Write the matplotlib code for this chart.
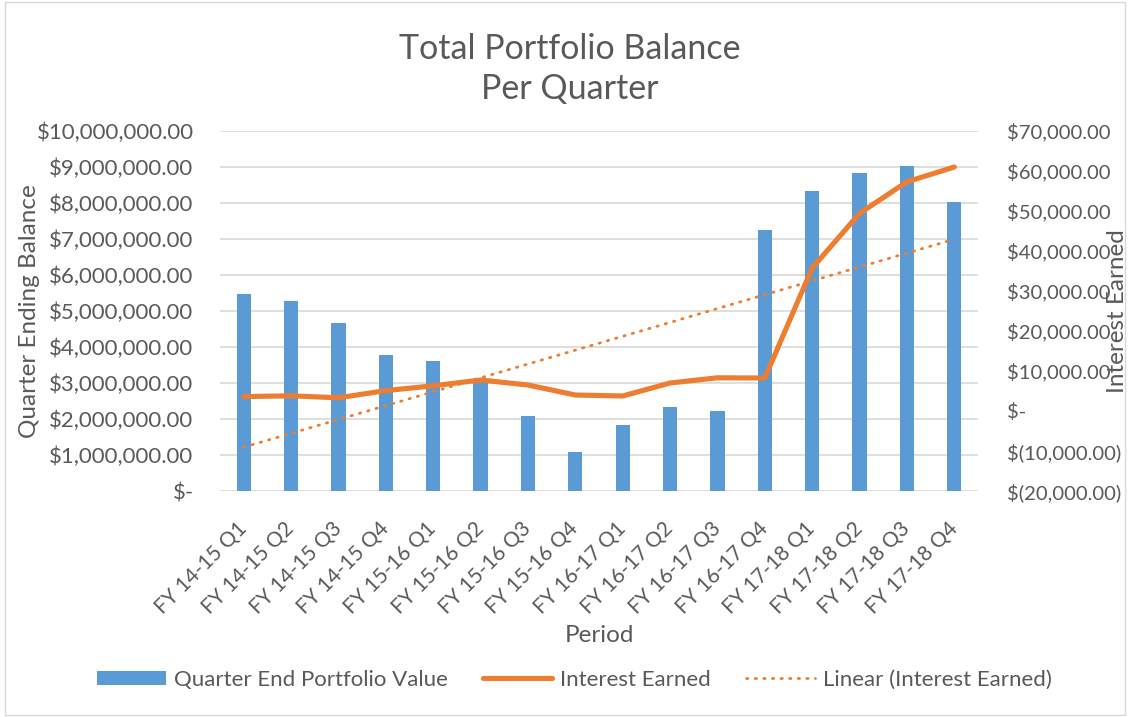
import matplotlib
matplotlib.use("Agg")
import matplotlib.pyplot as plt
import numpy as np
from matplotlib.ticker import FuncFormatter, MultipleLocator
from matplotlib.lines import Line2D
from matplotlib.patches import Patch, Rectangle

categories = ["FY 14-15 Q1", "FY 14-15 Q2", "FY 14-15 Q3", "FY 14-15 Q4",
              "FY 15-16 Q1", "FY 15-16 Q2", "FY 15-16 Q3", "FY 15-16 Q4",
              "FY 16-17 Q1", "FY 16-17 Q2", "FY 16-17 Q3", "FY 16-17 Q4",
              "FY 17-18 Q1", "FY 17-18 Q2", "FY 17-18 Q3", "FY 17-18 Q4"]
portfolio_value = [5470000, 5280000, 4670000, 3780000, 3600000, 3080000, 2090000, 1090000,
                   1830000, 2320000, 2220000, 7250000, 8340000, 8840000, 9030000, 8020000]
interest_earned = [3600, 3800, 3300, 5100, 6300, 7750, 6500, 4000,
                   3750, 7000, 8300, 8250, 35750, 49400, 57300, 61000]

plt.rcParams['font.family'] = ['Lato', 'DejaVu Sans']
grey = '#595959'
blue = '#5B9BD5'
orange = '#ED7D31'
gridc = '#D9D9D9'

fig = plt.figure(figsize=(11.3, 7.17), dpi=100)
ax = fig.add_axes([220 / 1130, 1 - 491 / 717, 758 / 1130, 360 / 717])
ax2 = ax.twinx()

x = np.arange(len(categories))
ax.bar(x, portfolio_value, width=0.3, color=blue, zorder=2)
ax.set_ylim(0, 10000000)
ax.yaxis.set_major_locator(MultipleLocator(1000000))
ax.set_xlim(-0.5, len(categories) - 0.5)
ax.grid(axis='y', color=gridc, linewidth=1.2, zorder=0)
ax.set_axisbelow(True)

def left_fmt(v, pos):
    if abs(v) < 0.5:
        return '$-'
    return '${:,.2f}'.format(v)

def right_fmt(v, pos):
    if abs(v) < 0.5:
        return '$-'
    if v < 0:
        return '$({:,.2f})'.format(-v)
    return '${:,.2f}'.format(v)

ax.yaxis.set_major_formatter(FuncFormatter(left_fmt))
ax2.yaxis.set_major_formatter(FuncFormatter(right_fmt))

ax2.plot(x, interest_earned, color=orange, linewidth=3.7, solid_joinstyle='round',
         solid_capstyle='round', zorder=3)
coef = np.polyfit(x, interest_earned, 1)
trend = np.polyval(coef, x)
dotstyle = (0, (0.5, 2.6))
ax2.plot(x, trend, color=orange, linewidth=2.0, linestyle=dotstyle,
         dash_capstyle='round', zorder=3)
ax2.set_ylim(-20000, 70000)
ax2.yaxis.set_major_locator(MultipleLocator(10000))

for a in (ax, ax2):
    for s in a.spines.values():
        s.set_visible(False)
    a.tick_params(length=0, colors=grey, labelsize=16)

ax.tick_params(axis='y', pad=19)
ax2.tick_params(axis='y', pad=21, labelsize=14.6)
ax.set_xticks(x)
ax.set_xticklabels(categories, rotation=45, ha='right', va='center', rotation_mode='anchor',
                   fontsize=15)
ax.tick_params(axis='x', pad=25)

fig.text(0.504, 1 - 69 / 717, 'Total Portfolio Balance\nPer Quarter', ha='center', va='center',
         fontsize=24.5, color=grey, linespacing=1.3)
fig.text(599 / 1130, 1 - 635 / 717, 'Period', ha='center', va='center', fontsize=17.5, color=grey)
fig.text(30 / 1130, 1 - 311 / 717, 'Quarter Ending Balance', rotation=90, ha='center', va='center',
         fontsize=17.5, color=grey)
fig.text(1117 / 1130, 1 - 311 / 717, 'Interest Earned', rotation=90, ha='center', va='center',
         fontsize=17.5, color=grey)

handles = [Patch(facecolor=blue),
           Line2D([], [], color=orange, linewidth=3.7, solid_capstyle='round'),
           Line2D([], [], color=orange, linewidth=2.0, linestyle=dotstyle, dash_capstyle='round')]
labels = ['Quarter End Portfolio Value', 'Interest Earned', 'Linear (Interest Earned)']
leg = fig.legend(handles, labels, loc='center', bbox_to_anchor=(574.5 / 1130, 1 - 680 / 717), ncol=3,
                 frameon=False, fontsize=16, handlelength=3.1, handleheight=0.62,
                 columnspacing=1.6, handletextpad=0.35, borderpad=0, borderaxespad=0)
for t in leg.get_texts():
    t.set_color(grey)

fig.patches.append(Rectangle((0.004, 0.003), 0.992, 0.994, transform=fig.transFigure,
                             fill=False, edgecolor=gridc, linewidth=1.0))

fig.savefig('out.png', dpi=100, facecolor='white')
